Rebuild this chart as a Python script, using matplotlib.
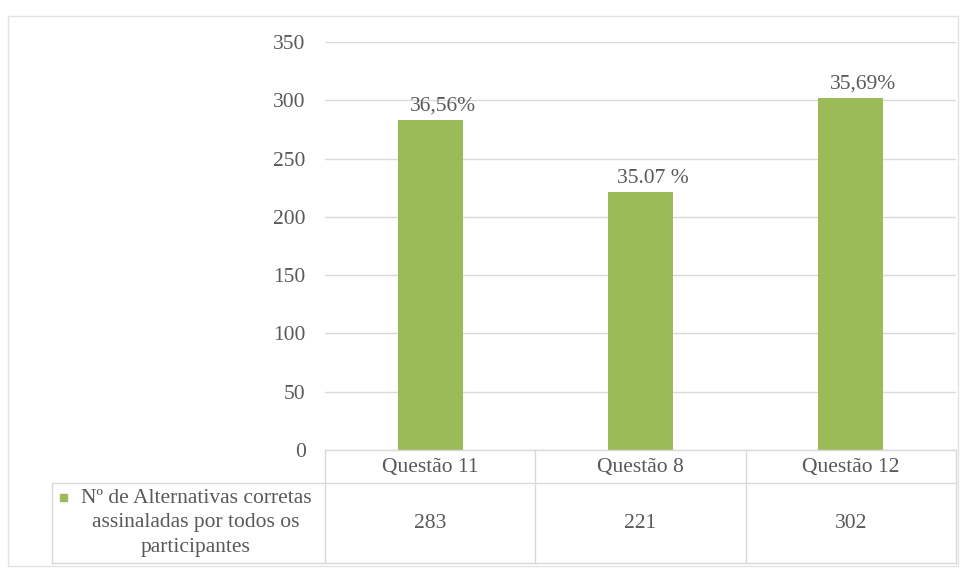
import matplotlib
matplotlib.use("Agg")
import matplotlib.pyplot as plt
from matplotlib.patches import Rectangle
from matplotlib.lines import Line2D

categories = ["Questão 11", "Questão 8", "Questão 12"]
values = [283, 221, 302]
pct_labels = ["36,56%", "35.07 %", "35,69%"]
series_name = "Nº de Alternativas corretas\nassinaladas por todos os\nparticipantes"
yticks = [0, 50, 100, 150, 200, 250, 300, 350]

GREEN = "#9BBB59"
TXT = "#595959"
GRID = "#D9D9D9"
FONT = "Liberation Serif"
FS = 15.5

W, H = 968, 568
fig = plt.figure(figsize=(W / 100, H / 100), dpi=100)
fig.patch.set_facecolor("white")

def fx(x):
    return x / W

def fy(y):
    return 1 - y / H

# outer chart border
fig.patches.append(Rectangle((fx(8), fy(566)), fx(958) - fx(8), fy(16) - fy(566),
                             transform=fig.transFigure, fill=False, edgecolor="#E3E3E3", lw=1.0))

left, right, top, bottom = 325, 956, 42, 450
ax = fig.add_axes([fx(left), fy(bottom), fx(right) - fx(left), fy(top) - fy(bottom)])
x = list(range(len(categories)))
ax.bar(x, values, width=0.31, color=GREEN, zorder=3)
ax.set_xlim(-0.5, len(categories) - 0.5)
ax.set_ylim(0, 350)
ax.set_yticks(yticks)
ax.set_yticklabels([str(t) for t in yticks], fontfamily=FONT, fontsize=FS, color=TXT)
ax.tick_params(axis="y", length=0, pad=14)
ax.set_xticks([])
ax.grid(axis="y", color=GRID, lw=1.0, zorder=0)
for s in ["top", "right", "left", "bottom"]:
    ax.spines[s].set_visible(False)

for xi, v, lab in zip(x, values, pct_labels):
    ax.annotate(lab, (xi, v), xytext=(9, 3), textcoords="offset points",
                ha="center", va="bottom", fontfamily=FONT, fontsize=FS, color=TXT)

# data table
row1_top, row1_bot, row2_bot = 450, 483, 563
leg_left = 52
col_w = (right - left) / len(categories)

def hline(y, x0, x1):
    fig.add_artist(Line2D([fx(x0), fx(x1)], [fy(y), fy(y)], transform=fig.transFigure, color=GRID, lw=1.0))

def vline(xp, y0, y1):
    fig.add_artist(Line2D([fx(xp), fx(xp)], [fy(y0), fy(y1)], transform=fig.transFigure, color=GRID, lw=1.0))

hline(row1_top, left, right)
hline(row1_bot, leg_left, right)
hline(row2_bot, leg_left, right)
vline(leg_left, row1_bot, row2_bot)
for i in range(len(categories) + 1):
    vline(left + i * col_w, row1_top, row2_bot)

for i, (c, v) in enumerate(zip(categories, values)):
    cx = left + (i + 0.5) * col_w
    fig.text(fx(cx), fy((row1_top + row1_bot) / 2 + 1), c, ha="center", va="center",
             fontfamily=FONT, fontsize=FS, color=TXT)
    fig.text(fx(cx), fy((row1_bot + row2_bot) / 2), str(v), ha="center", va="center",
             fontfamily=FONT, fontsize=FS, color=TXT)

fig.text(fx(196), fy((row1_bot + row2_bot) / 2), series_name, ha="center", va="center",
         fontfamily=FONT, fontsize=FS, color=TXT, linespacing=1.42, multialignment="center")
fig.patches.append(Rectangle((fx(60), fy(501)), 7 / W, 7 / H,
                             transform=fig.transFigure, color=GREEN))

fig.savefig("out.png", dpi=100)
